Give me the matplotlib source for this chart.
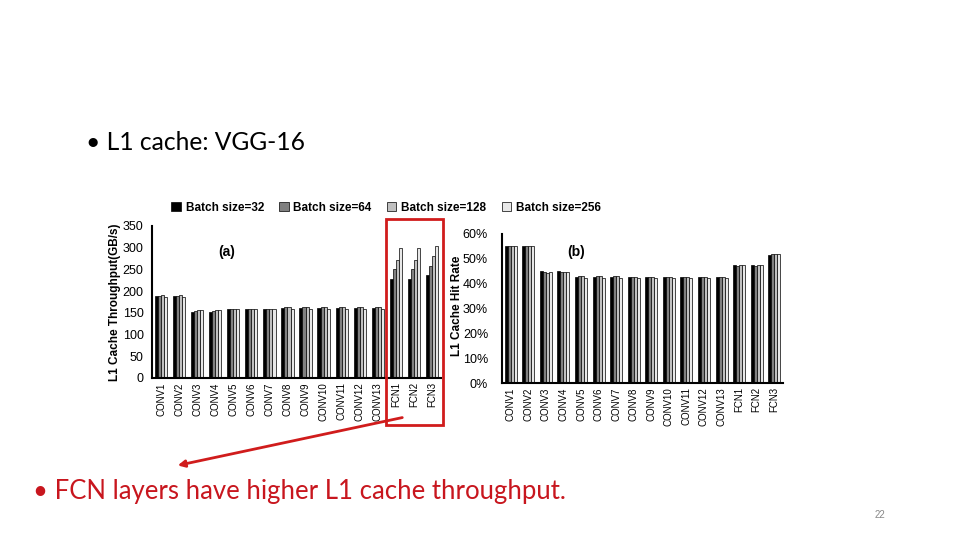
import numpy as np
import matplotlib.pyplot as plt
from matplotlib.patches import Rectangle, FancyArrowPatch

# layer names
layers = ['CONV1', 'CONV2', 'CONV3', 'CONV4', 'CONV5', 'CONV6', 'CONV7', 'CONV8',
          'CONV9', 'CONV10', 'CONV11', 'CONV12', 'CONV13', 'FCN1', 'FCN2', 'FCN3']
batches = ['Batch size=32', 'Batch size=64', 'Batch size=128', 'Batch size=256']

# (a) L1 cache throughput (GB/s)
thr_32 = [189, 189, 152, 152, 159, 159, 159, 162, 162, 162, 162, 162, 162, 228, 228, 237]
thr_64 = [189, 189, 154, 154, 159, 159, 159, 163, 163, 163, 163, 163, 163, 251, 251, 257]
thr_128 = [191, 191, 156, 156, 159, 159, 159, 163, 163, 163, 163, 163, 163, 271, 271, 281]
thr_256 = [187, 187, 156, 156, 159, 159, 159, 158, 158, 158, 158, 158, 158, 299, 299, 305]

# (b) L1 cache hit rate (%)
hit_32 = [55.0, 55.0, 45.2, 45.2, 42.7, 42.7, 42.7, 42.5, 42.5, 42.5, 42.5, 42.5, 42.5, 47.6, 47.6, 51.5]
hit_64 = [55.0, 55.0, 44.6, 44.8, 43.0, 43.0, 43.0, 42.6, 42.6, 42.6, 42.6, 42.6, 42.6, 47.0, 47.0, 52.0]
hit_128 = [55.0, 55.0, 44.2, 44.5, 43.0, 43.0, 43.0, 42.6, 42.6, 42.6, 42.6, 42.6, 42.6, 47.4, 47.4, 52.0]
hit_256 = [55.0, 55.0, 44.8, 44.8, 42.2, 42.2, 42.2, 42.2, 42.2, 42.2, 42.2, 42.2, 42.2, 47.4, 47.4, 52.0]

colors = ['#000000', '#808080', '#c0c0c0', '#e8e8e8']
font = 'Liberation Sans'

fig = plt.figure(figsize=(9.6, 5.4), dpi=100)
W, H = 960, 540


def px_axes(x0, y0, x1, y1):
    return fig.add_axes([x0 / W, 1 - y1 / H, (x1 - x0) / W, (y1 - y0) / H])


def draw_bars(ax, series):
    x = np.arange(len(layers))
    w = 0.17
    handles = []
    for i, vals in enumerate(series):
        b = ax.bar(x + (i - 1.5) * w, vals, w, color=colors[i], edgecolor='black',
                   linewidth=0.5, label=batches[i])
        handles.append(b)
    ax.set_xlim(-0.5, len(layers) - 0.5)
    ax.set_xticks(x)
    ax.set_xticklabels(layers, rotation=90, fontsize=7, family=font)
    ax.tick_params(length=0, pad=3)
    for s in ['top', 'right']:
        ax.spines[s].set_visible(False)
    ax.spines['left'].set_linewidth(1.5)
    ax.spines['bottom'].set_linewidth(1.5)
    return handles


ax1 = px_axes(152, 226, 441, 378)
handles = draw_bars(ax1, [thr_32, thr_64, thr_128, thr_256])
ax1.set_ylim(0, 350)
ax1.set_yticks(range(0, 351, 50))
for t in ax1.get_yticklabels():
    t.set_fontsize(9)
    t.set_family(font)
ax1.tick_params(axis='y', pad=6)
ax1.set_ylabel('L1 Cache Throughput(GB/s)', fontsize=8.5, fontweight='bold', family=font)
ax1.yaxis.set_label_coords((121 - 152) / 289, 0.5)

ax2 = px_axes(502, 234, 783, 383)
draw_bars(ax2, [hit_32, hit_64, hit_128, hit_256])
ax2.set_ylim(0, 60)
ax2.set_yticks(range(0, 61, 10))
ax2.set_yticklabels([f'{v}%' for v in range(0, 61, 10)], fontsize=9, family=font)
ax2.tick_params(axis='y', pad=10)
ax2.set_ylabel('L1 Cache Hit Rate', fontsize=8.5, fontweight='bold', family=font)
ax2.yaxis.set_label_coords((463 - 502) / 281, 0.52)

fig.text(227 / W, 1 - 252 / H, '(a)', fontsize=10, fontweight='bold', family=font,
         ha='center', va='center')
fig.text(576 / W, 1 - 252 / H, '(b)', fontsize=10, fontweight='bold', family=font,
         ha='center', va='center')

fig.legend(handles, batches, ncol=4, loc='center', bbox_to_anchor=(386 / W, 1 - 208 / H),
           frameon=False, prop={'family': font, 'size': 8.5, 'weight': 'bold'},
           handlelength=0.8, handleheight=0.8, columnspacing=1.3, handletextpad=0.4)

# slide text
fig.text(86 / W, 1 - 143 / H, '\u2022 L1 cache: VGG-16', fontsize=17.7, family='Lato',
         va='center', ha='left')
fig.text(33 / W, 1 - 492 / H, '\u2022 FCN layers have higher L1 cache throughput.',
         fontsize=18.5, family='Lato', color='#c8161e', va='center', ha='left')
fig.text(880 / W, 1 - 515 / H, '22', fontsize=7, color='#888888', family=font,
         ha='center', va='center')

# red highlight box and arrow
fig.patches.append(Rectangle((386 / W, 1 - 425 / H), 57 / W, 206 / H, fill=False,
                             edgecolor='#d01c1c', linewidth=2, transform=fig.transFigure))
fig.patches.append(FancyArrowPatch((405 / W, 1 - 417 / H), (175 / W, 1 - 466 / H),
                                   transform=fig.transFigure, color='#d01c1c',
                                   linewidth=2, arrowstyle='-|>', mutation_scale=10))

fig.savefig('out.png', dpi=100)
